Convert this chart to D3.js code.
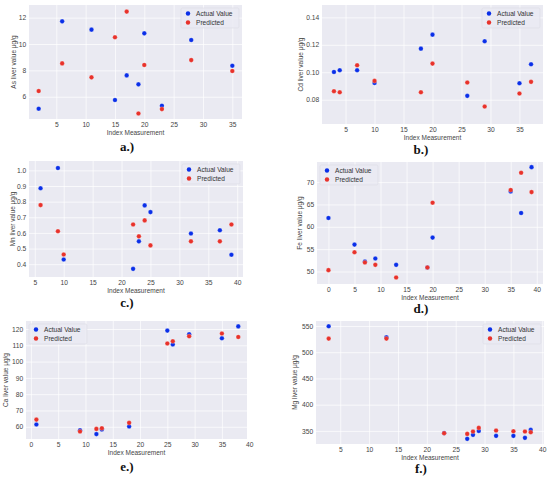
<!DOCTYPE html>
<html>
<head>
    <title>Liver values: actual vs predicted</title>
    <script src="https://cdn.jsdelivr.net/npm/d3@7"></script>
</head>
<style>
body { margin: 0; background: #fff; }
svg { display: block; }
.tick text { font-family: "Liberation Sans", Arial, sans-serif; font-size: 6.7px; fill: #444; }
</style>
<body>
<script>

// ---- data ----
var panelLetters = ["a", "b", "c", "d", "e", "f"];
var elements = ["As", "Cd", "Mn", "Fe", "Ca", "Mg"];

var indexA = [2, 6, 11, 15, 17, 19, 20, 23, 28, 35];
var actualA = [5.09, 11.72, 11.09, 5.75, 7.62, 6.94, 10.81, 5.32, 10.30, 8.35];
var predictedA = [6.43, 8.53, 7.47, 10.51, 12.46, 4.73, 8.41, 5.06, 8.78, 7.95];

var indexB = [3, 4, 7, 10, 18, 20, 26, 29, 35, 37];
var actualB = [0.1002, 0.1015, 0.1015, 0.0922, 0.1172, 0.1274, 0.0828, 0.1226, 0.0920, 0.1058];
var predictedB = [0.0862, 0.0854, 0.1051, 0.0937, 0.0854, 0.1063, 0.0925, 0.0750, 0.0845, 0.0930];

var indexC = [6, 9, 10, 22, 23, 24, 25, 32, 37, 39];
var actualC = [0.886, 1.015, 0.430, 0.370, 0.546, 0.776, 0.733, 0.596, 0.617, 0.460];
var predictedC = [0.778, 0.611, 0.462, 0.654, 0.578, 0.680, 0.520, 0.546, 0.546, 0.654];

var indexD = [0, 5, 7, 9, 13, 19, 20, 35, 37, 39];
var actualD = [61.97, 56.02, 52.23, 52.90, 51.49, 50.90, 57.58, 67.92, 63.09, 73.35];
var predictedD = [50.30, 54.31, 52.01, 51.49, 48.66, 50.89, 65.39, 68.22, 72.08, 67.77];

var indexE = [1, 9, 12, 13, 18, 25, 26, 29, 35, 38];
var actualE = [61.4, 57.9, 55.5, 58.3, 60.2, 119.0, 110.5, 116.8, 114.3, 121.6];
var predictedE = [64.4, 57.1, 58.7, 59.1, 62.4, 111.1, 112.5, 115.5, 117.2, 115.1];

var indexF = [3, 13, 23, 27, 28, 29, 32, 35, 37, 38];
var actualF = [549.4, 528.5, 345.8, 334.8, 342.4, 350.0, 340.5, 340.5, 336.7, 351.9];
var predictedF = [525.9, 525.9, 345.6, 344.3, 348.7, 355.7, 350.6, 349.4, 348.7, 347.5];

// axis limits and ticks
var xLimits = [[0.35, 36.65], [0.94, 39.06], [4.0, 41.0], [-2.2, 41.2], [-0.9, 39.6], [0.8, 40.3]];
var yLimits = [[4.31, 12.96], [0.0623, 0.149], [0.318, 1.06], [47.2, 74.5], [52.5, 124.9], [325, 559.5]];
var xTicks = [[5, 10, 15, 20, 25, 30, 35],
              [5, 10, 15, 20, 25, 30, 35],
              [5, 10, 15, 20, 25, 30, 35, 40],
              [0, 5, 10, 15, 20, 25, 30, 35, 40],
              [0, 5, 10, 15, 20, 25, 30, 35, 40],
              [5, 10, 15, 20, 25, 30, 35, 40]];
var yTicks = [[6, 8, 10, 12],
              [0.08, 0.10, 0.12, 0.14],
              [0.4, 0.5, 0.6, 0.7, 0.8, 0.9, 1.0],
              [50, 55, 60, 65, 70],
              [60, 70, 80, 90, 100, 110, 120],
              [350, 400, 450, 500, 550]];
var yFormats = ["d", ".2f", ".1f", "d", "d", "d"];
var seriesNames = ["Actual Value", "Predicted"];

var indexes = [indexA, indexB, indexC, indexD, indexE, indexF];
var actuals = [actualA, actualB, actualC, actualD, actualE, actualF];
var predicteds = [predictedA, predictedB, predictedC, predictedD, predictedE, predictedF];

// ---- layout (plot rectangles in page pixels) ----
var boxes = [
    {x0: 29, y0: 5, x1: 242, y1: 119, lx: 14, legend: "right", cx: 127, cy: 151},
    {x0: 322, y0: 5, x1: 543, y1: 124, lx: 301, legend: "right", cx: 421, cy: 154},
    {x0: 29, y0: 161, x1: 243, y1: 277, lx: 12.5, legend: "right", cx: 127, cy: 307},
    {x0: 317, y0: 162, x1: 543, y1: 284, lx: 299.5, legend: "left", cx: 421, cy: 313},
    {x0: 26, y0: 321, x1: 247, y1: 439, lx: 5.5, legend: "left", cx: 127, cy: 471},
    {x0: 316, y0: 321, x1: 544, y1: 444, lx: 295, legend: "right", cx: 421, cy: 473}
];
var colors = ["#0a2fe8", "#e8322b"];
var font = "'Liberation Sans', Arial, sans-serif";

var svg = d3.select("body").append("svg")
    .attr("width", 550)
    .attr("height", 481);

boxes.forEach(function(b, i) {
    var w = b.x1 - b.x0, h = b.y1 - b.y0;
    var x = d3.scaleLinear().domain(xLimits[i]).range([0, w]);
    var y = d3.scaleLinear().domain(yLimits[i]).range([h, 0]);

    var g = svg.append("g").attr("transform", "translate(" + b.x0 + "," + b.y0 + ")");

    g.append("rect")
        .attr("width", w)
        .attr("height", h)
        .attr("fill", "#eaeaf2");

    // grid + tick labels
    var gx = g.append("g")
        .attr("transform", "translate(0," + h + ")")
        .call(d3.axisBottom(x).tickValues(xTicks[i]).tickSizeInner(-h).tickSizeOuter(0).tickPadding(3.5));
    var gy = g.append("g")
        .call(d3.axisLeft(y).tickValues(yTicks[i]).tickFormat(d3.format(yFormats[i]))
            .tickSizeInner(-w).tickSizeOuter(0).tickPadding(2.8));
    [gx, gy].forEach(function(a) {
        a.select(".domain").remove();
        a.selectAll(".tick line").attr("stroke", "#fff").attr("stroke-width", 0.7);
        a.selectAll(".tick text").attr("fill", "#444");
    });

    // points: actual first, predicted on top
    [actuals[i], predicteds[i]].forEach(function(vals, s) {
        g.append("g").selectAll("circle")
            .data(vals)
            .enter()
            .append("circle")
            .attr("cx", function(d, k) { return x(indexes[i][k]); })
            .attr("cy", function(d) { return y(d); })
            .attr("r", 2.3)
            .attr("fill", colors[s])
            .attr("stroke", "#fff")
            .attr("stroke-width", 0.25);
    });

    // axis labels
    g.append("text")
        .attr("x", w / 2)
        .attr("y", h + 15.5)
        .attr("text-anchor", "middle")
        .attr("font-family", font)
        .attr("font-size", "6.5px")
        .attr("fill", "#444")
        .text("Index Measurement");

    svg.append("text")
        .attr("transform", "translate(" + b.lx + "," + (b.y0 + h / 2) + ") rotate(-90)")
        .attr("text-anchor", "middle")
        .attr("dy", "0.35em")
        .attr("font-family", font)
        .attr("font-size", "6.5px")
        .attr("fill", "#444")
        .text(elements[i] + " liver value \u03bcg/g");

    // legend
    var lw = 58, lh = 20;
    var lx = b.legend === "right" ? w - lw - 3 : 3;
    var lg = g.append("g").attr("transform", "translate(" + lx + ",3)");
    lg.append("rect")
        .attr("width", lw)
        .attr("height", lh)
        .attr("rx", 1.5)
        .attr("fill", "#eaeaf2")
        .attr("fill-opacity", 0.8)
        .attr("stroke", "#dcdce4")
        .attr("stroke-width", 0.6);
    seriesNames.forEach(function(name, s) {
        lg.append("circle")
            .attr("cx", 7)
            .attr("cy", 5.5 + s * 9)
            .attr("r", 2.2)
            .attr("fill", colors[s]);
        lg.append("text")
            .attr("x", 15)
            .attr("y", 5.5 + s * 9)
            .attr("dy", "0.35em")
            .attr("font-family", font)
            .attr("font-size", "6.6px")
            .attr("fill", "#333")
            .text(name);
    });

    // panel caption
    svg.append("text")
        .attr("x", b.cx)
        .attr("y", b.cy)
        .attr("text-anchor", "middle")
        .attr("font-family", "'Liberation Serif', 'Times New Roman', serif")
        .attr("font-weight", "bold")
        .attr("font-size", "13px")
        .attr("fill", "#111")
        .text(panelLetters[i] + ".)");
});

</script>
</body>
</html>
